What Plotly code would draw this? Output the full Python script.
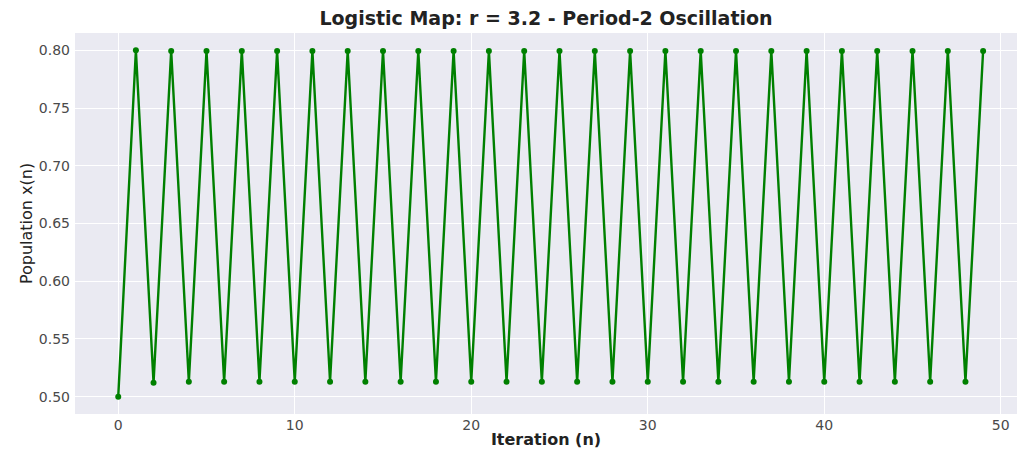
import plotly.graph_objects as go

iterations = list(range(50))
population = [
    0.5000, 0.8000, 0.5120, 0.7995, 0.5129, 0.7995, 0.5130, 0.7995, 0.5130, 0.7995,
    0.5130, 0.7995, 0.5130, 0.7995, 0.5130, 0.7995, 0.5130, 0.7995, 0.5130, 0.7995,
    0.5130, 0.7995, 0.5130, 0.7995, 0.5130, 0.7995, 0.5130, 0.7995, 0.5130, 0.7995,
    0.5130, 0.7995, 0.5130, 0.7995, 0.5130, 0.7995, 0.5130, 0.7995, 0.5130, 0.7995,
    0.5130, 0.7995, 0.5130, 0.7995, 0.5130, 0.7995, 0.5130, 0.7995, 0.5130, 0.7995,
]
x_ticks = [0, 10, 20, 30, 40, 50]
y_ticks = [0.50, 0.55, 0.60, 0.65, 0.70, 0.75, 0.80]

FONT = "DejaVu Sans, Liberation Sans, Arial, sans-serif"

fig = go.Figure()
fig.add_trace(go.Scatter(
    x=iterations, y=population, mode="lines+markers",
    line=dict(color="#008000", width=2.4),
    marker=dict(color="#008000", size=6),
    showlegend=False,
))

fig.update_layout(
    width=1017, height=450,
    margin=dict(l=75, r=0, t=33, b=36, autoexpand=False),
    paper_bgcolor="white", plot_bgcolor="#EAEAF2",
    font=dict(family=FONT, color="#333333"),
    title=dict(text="<b>Logistic Map: r = 3.2 - Period-2 Oscillation</b>",
               x=0.5, xanchor="center", xref="paper", y=1 - 18/450, yanchor="middle",
               font=dict(size=19, color="#222222")),
)
fig.update_xaxes(
    range=[-2.45, 50.92], tickvals=x_ticks, ticktext=[str(v) for v in x_ticks],
    showgrid=True, gridcolor="white", gridwidth=1, zeroline=False, showline=False,
    automargin=False,
    ticks="", tickfont=dict(size=14, color="#4a4a4a"), ticklabelstandoff=1,
    title=dict(text="<b>Iteration (n)</b>", font=dict(size=16, color="#222222"), standoff=1),
)
fig.update_yaxes(
    range=[0.485, 0.815], tickvals=y_ticks, ticktext=[f"{v:.2f}" for v in y_ticks],
    showgrid=True, gridcolor="white", gridwidth=1, zeroline=False, showline=False,
    automargin=False,
    ticks="", tickfont=dict(size=14, color="#4a4a4a"), ticklabelstandoff=4,
    title=dict(text="Population x(n)", font=dict(size=16, color="#222222"), standoff=2),
)

fig.write_html(
    "out.html",
    config={"displayModeBar": False},
    post_script="document.body.style.margin='0';document.body.style.overflow='hidden';",
)
